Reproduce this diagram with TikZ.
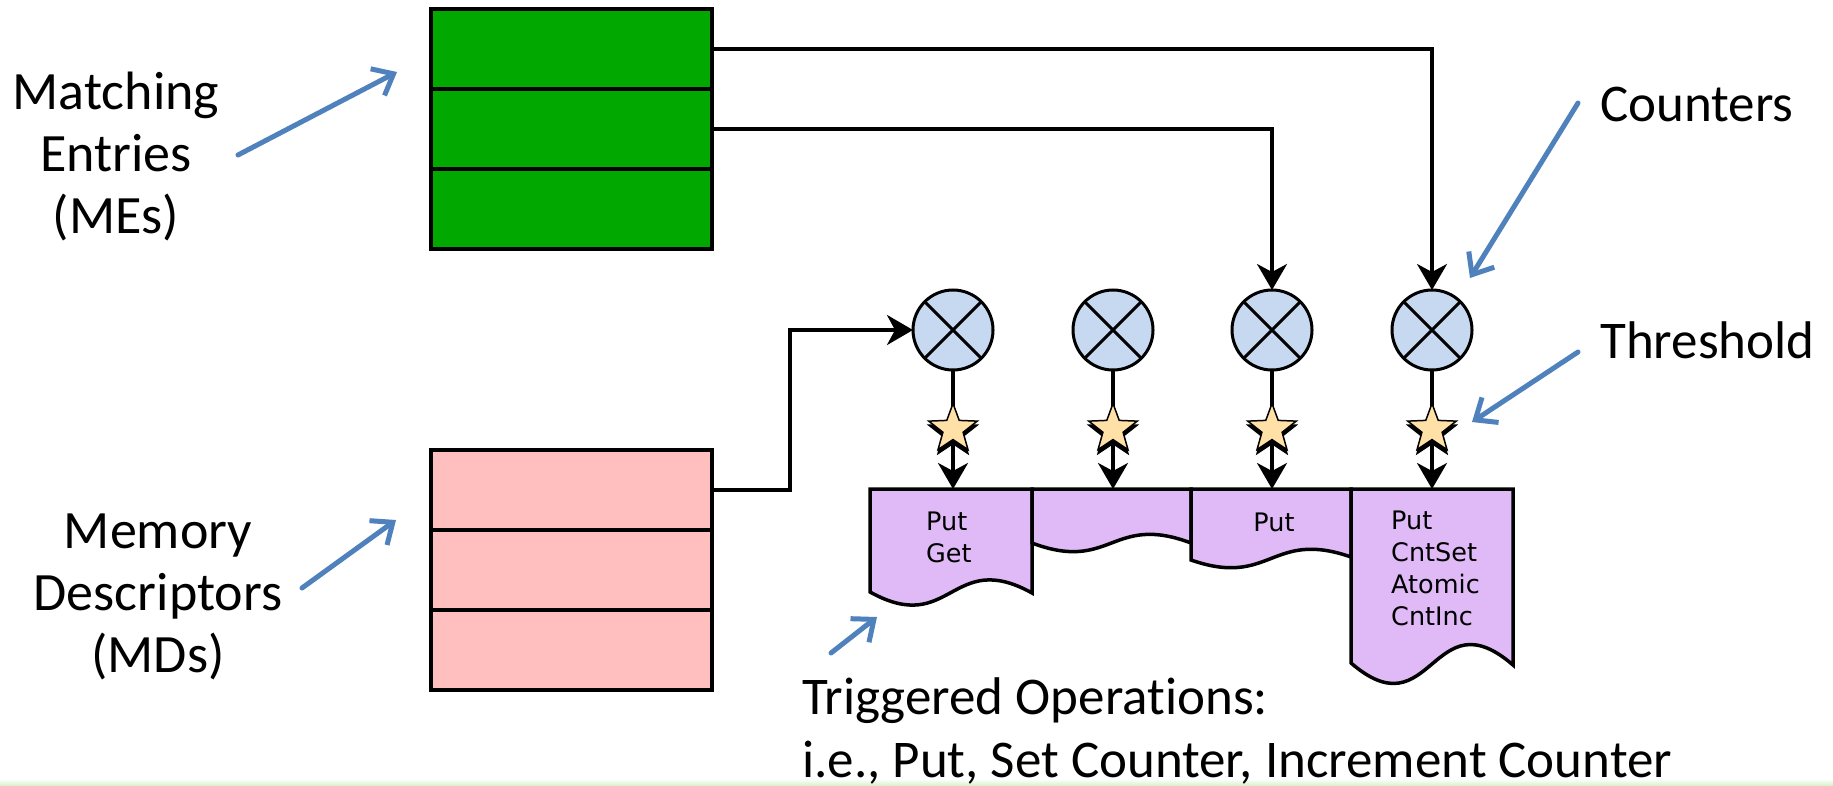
\documentclass[tikz,border=0pt]{standalone}
\usepackage{fontspec}
\setmainfont{Carlito}[Ligatures={NoCommon}]
\newfontfamily\opfont{DejaVu Sans}
\usetikzlibrary{arrows.meta,shapes.geometric}
\pgfdeclarelayer{paper}
\pgfdeclarelayer{wires}
\pgfsetlayers{paper,wires,main}
\definecolor{megreen}{RGB}{0,168,0}
\definecolor{mdpink}{RGB}{255,191,191}
\definecolor{oppurple}{RGB}{224,186,247}
\definecolor{ctrblue}{RGB}{198,217,240}
\definecolor{thrstar}{RGB}{255,224,166}
\definecolor{callout}{RGB}{79,129,189}
\definecolor{footgreen}{RGB}{214,240,200}
\tikzset{
  merow/.style={draw, line width=3.5pt, minimum width=281pt, minimum height=80pt, inner sep=0pt, outer sep=0pt},
  ctr/.style={circle, draw, line width=3pt, fill=ctrblue, minimum size=80pt, inner sep=0pt, outer sep=0pt},
  thr/.style={star, star points=5, star point ratio=2.4, minimum size=51pt, inner sep=0pt, outer sep=0pt, draw, line width=1.5pt, fill=thrstar},
  thrshadow/.style={star, star points=5, star point ratio=2.4, minimum size=55pt, inner sep=0pt, fill=black},
  wire/.style={line width=3.5pt, -{Stealth[length=26pt,width=30pt,inset=8pt]}},
  plainwire/.style={line width=3.5pt},
  callarrow/.style={draw=callout, line width=5pt, line cap=round, -{Straight Barb[length=18pt,width=30pt]}},
  leftlabel/.style={font=\fontsize{54}{62}\selectfont, align=center, inner sep=0pt},
  bigtext/.style={font=\fontsize{53}{63}\selectfont, anchor=base west, inner sep=0pt},
  optext/.style={font=\opfont\fontsize{25.5}{32}\selectfont, align=left, anchor=base west, inner sep=0pt},
  opbox/.style={draw, line width=3.5pt, fill=oppurple, line join=miter},
}
\begin{document}
\begin{tikzpicture}[x=1pt,y=-1pt]
  \useasboundingbox (0,0) rectangle (1833,786);
  \begin{pgfonlayer}{paper}
    \fill[white] (0,0) rectangle (1833,786);
    \fill[top color=white, bottom color=footgreen] (0,779) rectangle (1833,786);
  \end{pgfonlayer}

  % matching entries and memory descriptors
  \node[merow, fill=megreen] (me1) at (571.5,49) {};
  \node[merow, fill=megreen] (me2) at (571.5,129) {};
  \node[merow, fill=megreen] (me3) at (571.5,209) {};
  \node[merow, fill=mdpink] (md1) at (571.5,490) {};
  \node[merow, fill=mdpink] (md2) at (571.5,570) {};
  \node[merow, fill=mdpink] (md3) at (571.5,650) {};

  % counters
  \foreach \i/\x in {1/953,2/1113,3/1272,4/1432}{
    \node[ctr] (c\i) at (\x,330) {};
    \draw[line width=3pt] (c\i.north west) -- (c\i.south east)
                          (c\i.north east) -- (c\i.south west);
    \coordinate (t\i) at (\x,489);
  }

  % triggered operations
  \draw[opbox] (870,489) -- (1032,489) -- (1032,593)
     .. controls (951,548) and (951,637) .. (870,592) -- cycle;
  \draw[opbox] (1032,489) -- (1191,489) -- (1191,543)
     .. controls (1111.5,513) and (1111.5,573) .. (1032,543) -- cycle;
  \draw[opbox] (1191,489) -- (1351,489) -- (1351,557)
     .. controls (1271,529) and (1271,588) .. (1191,560) -- cycle;
  \draw[opbox] (1351,489) -- (1513,489) -- (1513,665)
     .. controls (1432,595) and (1432,733) .. (1351,663) -- cycle;

  \node[optext] (op1) at (926,562) {Put\\Get};
  \node[optext, anchor=base] (op3) at (1274,531) {Put};
  \node[optext] (op4) at (1391,625) {Put\\CntSet\\Atomic\\CntInc};

  % thresholds
  \foreach \i/\x in {1/953,2/1113,3/1272,4/1432}{
    \node[thrshadow] (sh\i) at (\x,433) {};
    \node[thr] (s\i) at (\x,429) {};
  }

  \begin{pgfonlayer}{wires}
    \foreach \i in {1,2,3,4}{
      \draw[plainwire] (c\i.south) -- (s\i.center);
      \draw[wire] (s\i.center) -- (t\i);
    }
    \draw[wire] (me1.east) -| (c4.north);
    \draw[wire] (me2.east) -| (c3.north);
    \draw[wire] (md1.east) -- ++(78,0) |- (c1.west);
  \end{pgfonlayer}

  % labels
  \node[leftlabel, anchor=base] (melbl) at (116,234) {Matching\\Entries\\(MEs)};
  \node[leftlabel, anchor=base] (mdlbl) at (158,672) {Memory\\Descriptors\\(MDs)};
  \node[bigtext] (ctrlbl) at (1600,122) {Counters};
  \node[bigtext] (thrlbl) at (1600,358) {Threshold};
  \node[bigtext] (trig1) at (802,714) {Triggered Operations:};
  \node[bigtext] (trig2) at (802,777) {i.e., Put, Set Counter, Increment Counter};

  % callout arrows
  \coordinate (a1s) at (238,155);  \coordinate (a1e) at (397,72);
  \coordinate (a2s) at (302,588);  \coordinate (a2e) at (396,520);
  \coordinate (a3s) at (1578,103); \coordinate (a3e) at (1470,278);
  \coordinate (a4s) at (1578,352); \coordinate (a4e) at (1472,422);
  \coordinate (a5s) at (831,653);  \coordinate (a5e) at (877,617);
  \foreach \i in {1,...,5}{
    \draw[callarrow] (a\i s) -- (a\i e);
  }
\end{tikzpicture}
\end{document}
